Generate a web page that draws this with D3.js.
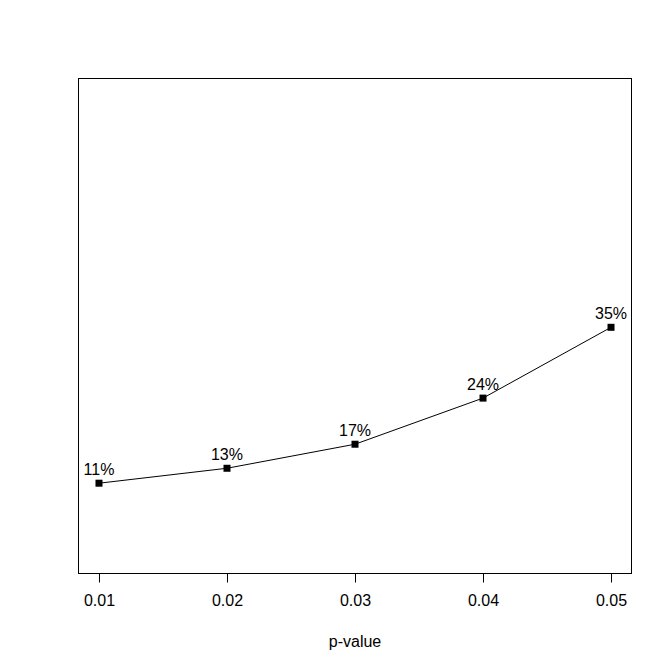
<!DOCTYPE html>
<html>
<head>
<meta charset="utf-8">
<script src="https://cdn.jsdelivr.net/npm/d3@7"></script>
<style>
  body { margin: 0; background: #fff; }
  text { font-family: "Liberation Sans", Arial, sans-serif; }
</style>
</head>
<body>
<div id="chart"></div>
<script>
// data
const pValues = [0.01, 0.02, 0.03, 0.04, 0.05];
const rates = [11, 13.3, 17, 24.1, 35];
const rateLabels = ['11%', '13%', '17%', '24%', '35%'];
const xTicks = [0.01, 0.02, 0.03, 0.04, 0.05];

const width = 672, height = 671;
const box = { left: 78.5, right: 631.5, top: 78.5, bottom: 573.5 };

const svg = d3.select('#chart').append('svg')
  .attr('width', width)
  .attr('height', height);

// R style 4% padding on x
const x = d3.scaleLinear().domain([0.0084, 0.0516]).range([box.left, box.right]);
const y = d3.scaleLinear().domain([-2.9, 73.3]).range([box.bottom, box.top]);

// plot frame
svg.append('rect')
  .attr('x', box.left).attr('y', box.top)
  .attr('width', box.right - box.left)
  .attr('height', box.bottom - box.top)
  .attr('fill', 'none')
  .attr('stroke', '#000')
  .attr('stroke-width', 1);

// x axis
const xAxis = d3.axisBottom(x)
  .tickValues(xTicks)
  .tickFormat(d3.format('.2f'))
  .tickSize(9)
  .tickPadding(12);

const gx = svg.append('g')
  .attr('transform', `translate(0,${box.bottom})`)
  .call(xAxis);
gx.select('.domain').remove();
gx.selectAll('text')
  .attr('font-family', '"Liberation Sans", Arial, sans-serif')
  .attr('font-size', 16)
  .attr('fill', '#000');

svg.append('text')
  .attr('x', (box.left + box.right) / 2)
  .attr('y', 647)
  .attr('text-anchor', 'middle')
  .attr('font-size', 16)
  .text('p-value');

const pts = pValues.map((p, i) => ({ p, r: rates[i], label: rateLabels[i] }));

// line
const line = d3.line().x(d => x(d.p)).y(d => y(d.r));
svg.append('path')
  .datum(pts)
  .attr('d', line)
  .attr('fill', 'none')
  .attr('stroke', '#000')
  .attr('stroke-width', 1);

// square markers
const s = 7;
svg.selectAll('rect.pt')
  .data(pts)
  .join('rect')
  .attr('class', 'pt')
  .attr('x', d => x(d.p) - s / 2)
  .attr('y', d => y(d.r) - s / 2)
  .attr('width', s)
  .attr('height', s)
  .attr('fill', '#000');

// value labels above points
svg.selectAll('text.lbl')
  .data(pts)
  .join('text')
  .attr('class', 'lbl')
  .attr('x', d => x(d.p))
  .attr('y', d => y(d.r) - 8)
  .attr('text-anchor', 'middle')
  .attr('font-size', 16)
  .text(d => d.label);
</script>
</body>
</html>
